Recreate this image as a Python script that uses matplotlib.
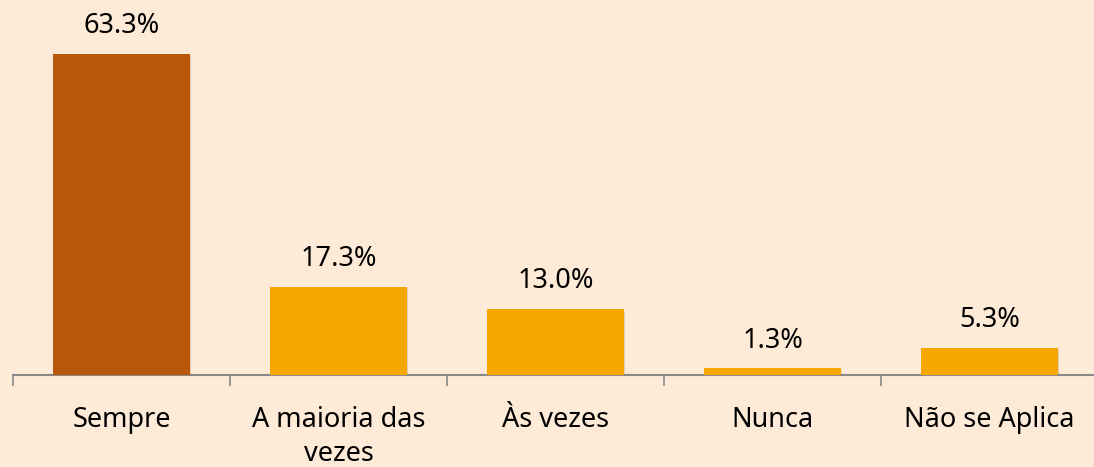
import matplotlib.pyplot as plt
import matplotlib.patheffects as pe

plt.rcParams['font.family'] = ['Noto Sans', 'DejaVu Sans']

categorias = ['Sempre', 'A maioria das\nvezes', 'Às vezes', 'Nunca', 'Não se Aplica']
valores = [63.3, 17.3, 13.0, 1.3, 5.3]
cores = ['#B8570A', '#F5A700', '#F5A700', '#F5A700', '#F5A700']
fundo = '#FDEAD7'

fig = plt.figure(figsize=(10.94, 4.67), dpi=100, facecolor=fundo)
ax = fig.add_axes([13 / 1094, 92 / 467, 1085 / 1094, 375 / 467])
ax.set_facecolor(fundo)

x = range(len(categorias))
barras = ax.bar(x, valores, width=0.63, color=cores, zorder=3)
for b in barras:
    b.set_path_effects([pe.SimplePatchShadow(offset=(1, -1), alpha=0.15), pe.Normal()])

for xi, v in zip(x, valores):
    ax.annotate(f'{v:.1f}%', (xi, v), xytext=(0, 10), textcoords='offset points',
                ha='center', va='bottom', fontsize=19.5)

ax.set_xlim(-0.5, 4.5)
ax.set_ylim(0, 74)
ax.set_xticks([i - 0.5 for i in range(6)], minor=False)
ax.set_xticklabels([])
ax.set_xticks(list(x), minor=True)
ax.set_xticklabels(categorias, minor=True, fontsize=19.5, linespacing=1.3)
ax.tick_params(axis='x', which='major', length=8, width=1.2, color='#898989')
ax.tick_params(axis='x', which='minor', length=0, pad=22)
ax.set_yticks([])
for s in ['top', 'right', 'left']:
    ax.spines[s].set_visible(False)
ax.spines['bottom'].set_color('#898989')
ax.spines['bottom'].set_linewidth(1.5)

fig.savefig('out.png', dpi=100, facecolor=fundo)
